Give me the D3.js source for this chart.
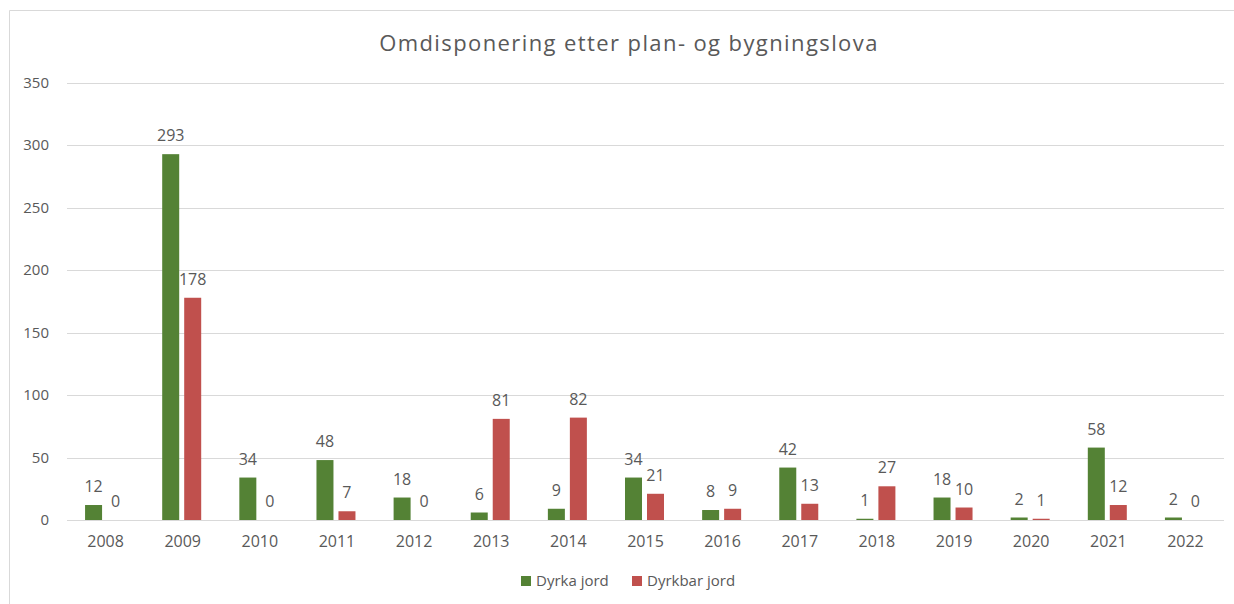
<!DOCTYPE html>
<html lang="no">
<head>
    <meta charset="UTF-8">
    <title>Omdisponering</title>
    <script src="https://cdn.jsdelivr.net/npm/d3@7"></script>
    <style>
        body { margin: 0; background: #fff; }
        text { font-family: "Open Sans", sans-serif; fill: #595959; }
        .grid line { stroke: #d9d9d9; }
    </style>
</head>
<body>
<script>
    const years = ["2008", "2009", "2010", "2011", "2012", "2013", "2014", "2015", "2016", "2017", "2018", "2019", "2020", "2021", "2022"]
    const dyrka = [12, 293, 34, 48, 18, 6, 9, 34, 8, 42, 1, 18, 2, 58, 2]
    const dyrkbar = [0, 178, 0, 7, 0, 81, 82, 21, 9, 13, 27, 10, 1, 12, 0]
    const seriesNames = ["Dyrka jord", "Dyrkbar jord"]
    const colors = ["#548235", "#c0504d"]
    const yTicks = [0, 50, 100, 150, 200, 250, 300, 350]

    const W = 1234, H = 604
    const svg = d3.select("body").append("svg").attr("width", W).attr("height", H)

    // chart frame
    svg.append("path")
        .attr("d", `M9.5,${H} V10.5 H${W}`)
        .attr("fill", "none").attr("stroke", "#d9d9d9")

    const plot = {left: 67, right: 1224, top: 83, bottom: 520}

    const x = d3.scaleBand().domain(years).range([plot.left, plot.right])
    const x1 = d3.scaleBand().domain([0, 1]).range([0, 39]).paddingInner(0.227)
    const y = d3.scaleLinear().domain([0, 350]).range([plot.bottom, plot.top])

    // gridlines
    svg.append("g").attr("class", "grid")
        .selectAll("line").data(yTicks).join("line")
        .attr("x1", plot.left).attr("x2", plot.right)
        .attr("y1", d => Math.round(y(d)) + 0.5).attr("y2", d => Math.round(y(d)) + 0.5)

    // y labels
    svg.append("g").selectAll("text").data(yTicks).join("text")
        .attr("x", 49).attr("y", d => y(d) + 5)
        .attr("text-anchor", "end").attr("font-size", 15)
        .text(d => d)

    // x labels
    svg.append("g").selectAll("text").data(years).join("text")
        .attr("x", d => x(d) + x.bandwidth() / 2).attr("y", 547)
        .attr("text-anchor", "middle").attr("font-size", 16)
        .text(d => d)

    const rows = years.map((yr, i) => ({year: yr, vals: [dyrka[i], dyrkbar[i]]}))
    const groups = svg.append("g").selectAll("g").data(rows).join("g")
        .attr("transform", d => `translate(${x(d.year) + x.bandwidth() / 2 - 20.5},0)`)

    groups.selectAll("rect").data(d => d.vals.map((v, s) => ({v, s}))).join("rect")
        .attr("x", d => x1(d.s))
        .attr("width", x1.bandwidth())
        .attr("y", d => y(d.v))
        .attr("height", d => y(0) - y(d.v))
        .attr("fill", d => colors[d.s])

    groups.selectAll("text").data(d => d.vals.map((v, s) => ({v, s}))).join("text")
        .attr("x", d => x1(d.s) + x1.bandwidth() / 2)
        .attr("y", d => y(d.v) - 13)
        .attr("text-anchor", "middle").attr("font-size", 16)
        .text(d => d.v)

    // title
    svg.append("text")
        .attr("x", 629).attr("y", 51)
        .attr("text-anchor", "middle").attr("font-size", 22)
        .attr("letter-spacing", 1.4)
        .text("Omdisponering etter plan- og bygningslova")

    // legend
    const legend = svg.append("g").attr("transform", "translate(521,576)")
    const items = legend.selectAll("g").data(seriesNames).join("g")
        .attr("transform", (d, i) => `translate(${i * 111},0)`)
    items.append("rect").attr("width", 10).attr("height", 10).attr("fill", (d, i) => colors[i])
    items.append("text").attr("x", 15).attr("y", 10).attr("font-size", 15).text(d => d)
</script>
</body>
</html>
